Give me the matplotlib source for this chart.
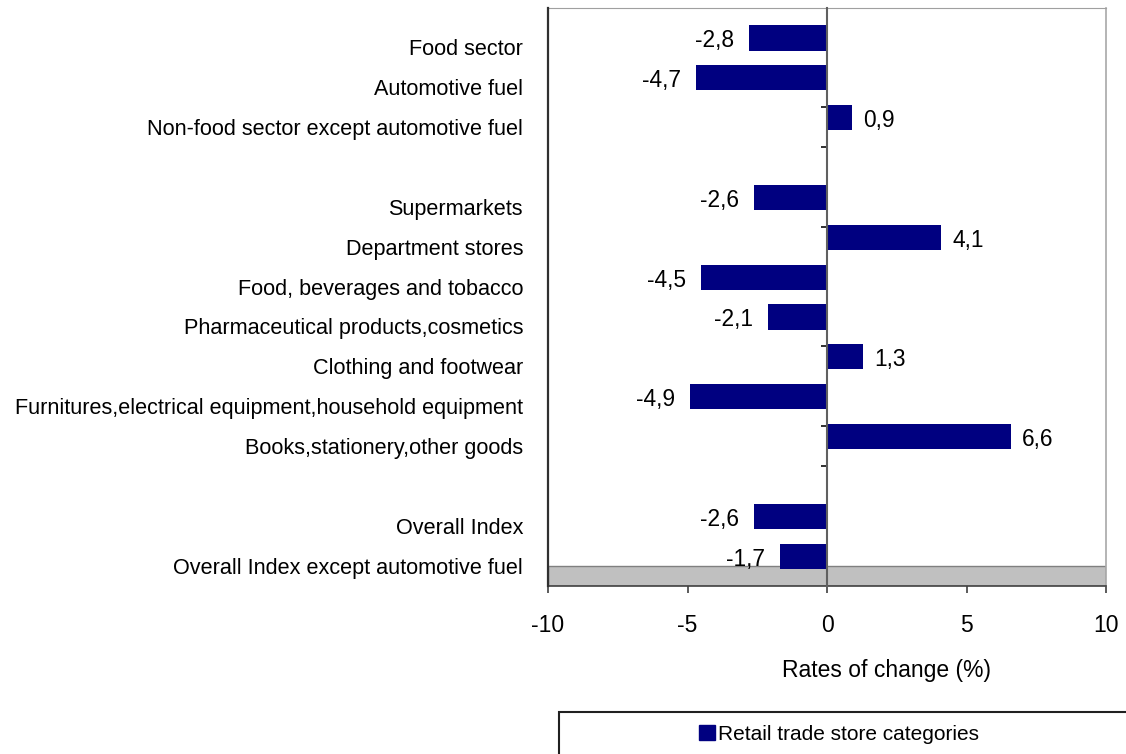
import matplotlib
matplotlib.use("Agg")
import matplotlib.pyplot as plt
import matplotlib.transforms as mtransforms
from matplotlib.patches import Rectangle, Patch
import numpy as np

plt.rcParams['font.family'] = ['Liberation Sans', 'DejaVu Sans']

categories = [
    "Food sector",
    "Automotive fuel",
    "Non-food sector except automotive fuel",
    "",
    "Supermarkets",
    "Department stores",
    "Food, beverages and tobacco",
    "Pharmaceutical products,cosmetics",
    "Clothing and footwear",
    "Furnitures,electrical equipment,household equipment",
    "Books,stationery,other goods",
    "",
    "Overall Index",
    "Overall Index except automotive fuel",
]
values = [-2.8, -4.7, 0.9, np.nan, -2.6, 4.1, -4.5, -2.1, 1.3, -4.9, 6.6, np.nan, -2.6, -1.7]
xticks = [-10, -5, 0, 5, 10]
series_name = "Retail trade store categories"
xlabel = "Rates of change (%)"

FS_CAT = 15.6
FS_VAL = 16.4
FS_TICK = 16.5
FS_XLAB = 16.5
FS_LEG = 15.0
BAR = '#000080'

W, H = 1126, 754
fig = plt.figure(figsize=(W / 100, H / 100), dpi=100)
left, right, top, bottom = 548, 1106, 7.5, 586
ax = fig.add_axes([left / W, 1 - bottom / H, (right - left) / W, (bottom - top) / H])

n = len(categories)
pos = np.arange(n)
ax.barh(pos, values, height=0.63, color=BAR, zorder=3)
ax.set_xlim(-10, 10)
ax.set_ylim(13.75, -0.765)

# gray floor band
ax.axhspan(13.26, 13.75, facecolor='#c0c0c0', edgecolor='#808080', lw=1.0, zorder=2)

# spines
ax.spines['left'].set_position(('data', 0))
ax.spines['left'].set_color('#606060')
ax.spines['left'].set_linewidth(1.5)
ax.spines['left'].set_zorder(4)
ax.spines['top'].set_linestyle((0, (1, 1)))
ax.spines['top'].set_color('#a0a0a0')
ax.spines['right'].set_color('#a8a8a8')
ax.spines['right'].set_linewidth(1.2)
ax.spines['bottom'].set_color('#404040')
ax.spines['bottom'].set_linewidth(1.2)
ax.axvline(-10, color='#303030', lw=1.6, clip_on=False, zorder=4)

# y ticks on the zero axis (category separators)
ax.set_yticks([k + 0.735 for k in range(-1, n - 1)])
ax.set_yticklabels([])
ax.tick_params(axis='y', direction='out', length=4.5, width=1.3, color='#202020')

ax.set_xticks(xticks)
ax.set_xticklabels([str(t) for t in xticks])
ax.tick_params(axis='x', direction='out', length=5, width=1.2, color='#404040',
               labelsize=FS_TICK, pad=15)
ax.set_xlabel(xlabel, fontsize=FS_XLAB)
ax.xaxis.label.set_va('center')
ax.xaxis.set_label_coords((886 - left) / (right - left), -(670 - bottom) / (bottom - top))

trans = mtransforms.blended_transform_factory(ax.transAxes, ax.transData)
for k, (c, v) in enumerate(zip(categories, values)):
    if c:
        ax.annotate(c, xy=(0, k + 0.3), xycoords=trans, xytext=(-25, 0),
                    textcoords='offset pixels', ha='right', va='center', fontsize=FS_CAT)
    if not np.isnan(v):
        lab = f"{v:.1f}".replace('.', ',')
        if v < 0:
            ax.annotate(lab, xy=(v, k), xytext=(-15, -3), textcoords='offset pixels',
                        ha='right', va='center', fontsize=FS_VAL, zorder=5)
        else:
            ax.annotate(lab, xy=(v, k), xytext=(11, -3), textcoords='offset pixels',
                        ha='left', va='center', fontsize=FS_VAL, zorder=5)

# legend box
fig.patches.append(Rectangle((559 / W, -0.1), 700 / W, (754 - 712) / H + 0.1,
                             transform=fig.transFigure, fill=False, ec='#202020', lw=1.5))
handle = Patch(facecolor=BAR, edgecolor=BAR)
fig.legend([handle], [series_name], loc='center left',
           bbox_to_anchor=(699 / W, 1 - 734 / H), bbox_transform=fig.transFigure,
           frameon=False, fontsize=FS_LEG, handlelength=0.75, handleheight=0.75,
           handletextpad=0.15, borderpad=0, borderaxespad=0)

fig.savefig("out.png", dpi=100)
